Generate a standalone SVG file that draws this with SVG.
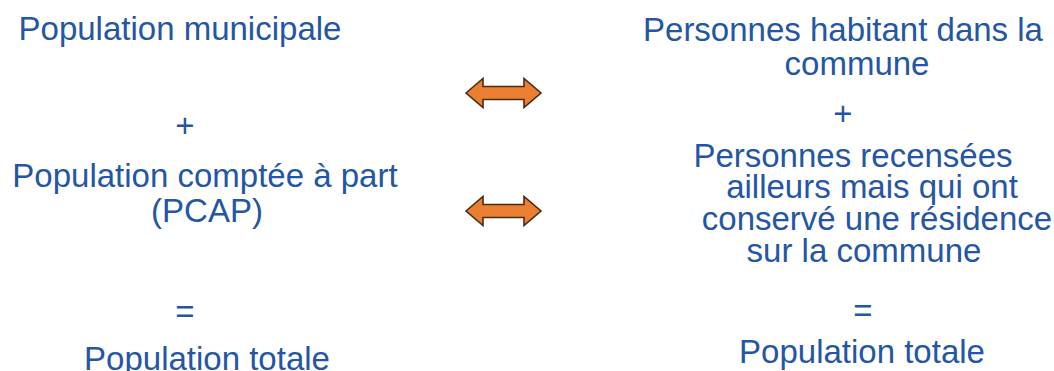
<svg xmlns="http://www.w3.org/2000/svg" width="1054" height="371" viewBox="0 0 1054 371">
<style>
text{font-family:"Liberation Sans",Arial,sans-serif;font-size:33px;fill:#2456a5;text-anchor:middle}
.arrow{fill:#ea7f32;stroke:#4a2c14;stroke-width:1.6;stroke-linejoin:miter}
</style>
<defs>
<polygon id="dbl" class="arrow" points="0,0 17,-14.5 17,-6.5 58,-6.5 58,-14.5 75,0 58,14.5 58,6.5 17,6.5 17,14.5"/>
</defs>
<rect width="1054" height="371" fill="#ffffff"/>
<g id="left-municipale"><text x="180" y="40">Population municipale</text></g>
<g id="left-plus"><text x="185" y="137">+</text></g>
<g id="left-pcap"><text x="205" y="187">Population comptée à part</text><text x="207" y="222">(PCAP)</text></g>
<g id="left-equals"><text x="185" y="323">=</text></g>
<g id="left-total"><text x="207" y="370">Population totale</text></g>
<g id="right-habitant"><text x="843" y="41">Personnes habitant dans la</text><text x="857" y="75">commune</text></g>
<g id="right-plus"><text x="843" y="125">+</text></g>
<g id="right-recensees"><text x="853" y="167">Personnes recensées</text><text x="872" y="198">ailleurs mais qui ont</text><text x="877" y="230">conservé une résidence</text><text x="864" y="262">sur la commune</text></g>
<g id="right-equals"><text x="863" y="322">=</text></g>
<g id="right-total"><text x="862" y="363">Population totale</text></g>
<g id="connectors">
<use href="#dbl" x="466" y="93"/>
<use href="#dbl" x="466" y="211"/>
</g>
</svg>
